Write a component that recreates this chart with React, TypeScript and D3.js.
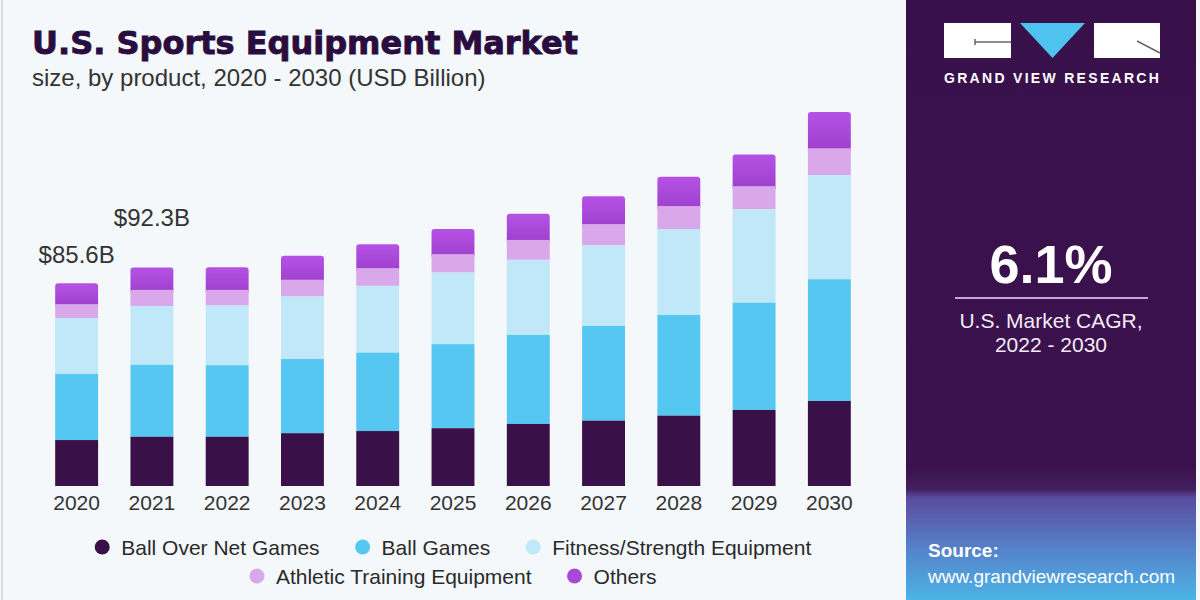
import React, { useEffect, useRef } from 'react'
import * as d3 from 'd3'

// values, USD billion
const years = ['2020', '2021', '2022', '2023', '2024', '2025', '2026', '2027', '2028', '2029', '2030']
const ballOverNet = [19.4, 20.8, 20.8, 22.3, 23.2, 24.4, 26.2, 27.6, 29.7, 32.1, 35.9]
const ballGames = [27.9, 30.4, 30.2, 31.3, 33.1, 35.5, 37.6, 40.0, 42.5, 45.3, 51.4]
const fitness = [23.6, 24.8, 25.2, 26.4, 28.2, 30.2, 31.7, 34.1, 36.3, 39.4, 44.0]
const athletic = [5.9, 6.8, 6.6, 7.1, 7.5, 7.8, 8.4, 8.9, 9.7, 9.8, 11.3]
const others = [8.8, 9.5, 9.6, 10.1, 10.1, 10.6, 11.0, 11.7, 12.4, 13.4, 15.3]

const seriesKeys = ['bon', 'ball', 'fit', 'ath', 'oth']
const seriesNames = ['Ball Over Net Games', 'Ball Games', 'Fitness/Strength Equipment', 'Athletic Training Equipment', 'Others']
const seriesColors = ['#3a1049', '#56c7f1', '#c0e8f8', '#d9a8ea', 'url(#othGrad)']
const legendDots = ['#3a1049', '#56c7f1', '#c0e8f8', '#d9a8ea', '#a947d9']
const legendRows = [[0, 1, 2], [3, 4]]

const totalLabels = ['$85.6B', '$92.3B']
const cagrValue = '6.1%'
const cagrText = ['U.S. Market CAGR,', '2022 - 2030']

const FONT = "'Liberation Sans', Arial, sans-serif"

const App = () => {
    const svgRef = useRef<SVGSVGElement>(null)

    useEffect(() => {
        draw()
    }, [])

    const draw = () => {
        const svg: any = d3.select(svgRef.current)
        svg.selectAll('*').remove()

        const W = 1200, H = 600
        const panelX = 906, panelW = 290

        const defs = svg.append('defs')
        const pg = defs.append('linearGradient').attr('id', 'panelGrad')
            .attr('x1', 0).attr('y1', 0).attr('x2', 0).attr('y2', 1)
        pg.append('stop').attr('offset', 0).attr('stop-color', '#38104a')
        pg.append('stop').attr('offset', 0.78).attr('stop-color', '#3b124d')
        pg.append('stop').attr('offset', 0.815).attr('stop-color', '#42205f')
        pg.append('stop').attr('offset', 0.83).attr('stop-color', '#5a4c9f')
        pg.append('stop').attr('offset', 0.92).attr('stop-color', '#5585cc')
        pg.append('stop').attr('offset', 1).attr('stop-color', '#4cb4e6')

        const og = defs.append('linearGradient').attr('id', 'othGrad')
            .attr('x1', 0).attr('y1', 0).attr('x2', 0).attr('y2', 1)
        og.append('stop').attr('offset', 0).attr('stop-color', '#b552e6')
        og.append('stop').attr('offset', 1).attr('stop-color', '#9d3fcb')

        // backgrounds
        svg.append('rect').attr('width', W).attr('height', H).attr('fill', '#f4f8fb')
        svg.append('line').attr('x1', 2).attr('x2', 2).attr('y1', 0).attr('y2', H)
            .attr('stroke', '#d9dee3').attr('stroke-width', 2)
        svg.append('rect').attr('x', panelX).attr('y', 0).attr('width', panelW).attr('height', H)
            .attr('fill', 'url(#panelGrad)')

        // title
        svg.append('text').attr('x', 32).attr('y', 54)
            .attr('font-family', "'DejaVu Sans', sans-serif").attr('font-weight', 'bold')
            .attr('font-size', 32).attr('fill', '#2a0d3e')
            .attr('stroke', '#2a0d3e').attr('stroke-width', 0.9)
            .text('U.S. Sports Equipment Market')
        svg.append('text').attr('x', 32).attr('y', 86)
            .attr('font-family', FONT).attr('font-size', 24).attr('fill', '#333')
            .text('size, by product, 2020 - 2030 (USD Billion)')

        // data table
        const table = years.map((yr, i) => ({
            year: yr, bon: ballOverNet[i], ball: ballGames[i], fit: fitness[i], ath: athletic[i], oth: others[i]
        }))
        const stacked = d3.stack<any>().keys(seriesKeys)(table)

        const x = d3.scaleBand().domain(years).range([39, 867]).paddingInner(0.43).paddingOuter(0.215)
        const y = d3.scaleLinear().domain([0, 205.2]).range([486, 0])

        const bars = svg.append('g')
        // draw top layer first so the rounded top can tuck under the layer below
        stacked.slice().reverse().forEach((layer: any) => {
            const idx = seriesKeys.indexOf(layer.key)
            const isTop = layer.key === 'oth'
            bars.append('g').selectAll('rect').data(layer).join('rect')
                .attr('x', (d: any) => x(d.data.year))
                .attr('width', x.bandwidth())
                .attr('y', (d: any) => y(d[1]))
                .attr('height', (d: any) => y(d[0]) - y(d[1]) + (isTop ? 4 : 0))
                .attr('rx', isTop ? 3 : 0)
                .attr('fill', seriesColors[idx])
        })

        // year labels
        svg.append('g').selectAll('text').data(years).join('text')
            .attr('x', (d: string) => x(d)! + x.bandwidth() / 2)
            .attr('y', 510)
            .attr('text-anchor', 'middle')
            .attr('font-family', FONT).attr('font-size', 21).attr('fill', '#333')
            .text((d: string) => d)

        // total labels for first two years
        const totals = table.map(r => r.bon + r.ball + r.fit + r.ath + r.oth)
        svg.append('g').selectAll('text').data(totalLabels).join('text')
            .attr('x', (_: any, i: number) => x(years[i])! + x.bandwidth() / 2)
            .attr('y', (_: any, i: number) => y(totals[i]) - (i === 0 ? 20 : 41))
            .attr('text-anchor', 'middle')
            .attr('font-family', FONT).attr('font-size', 24).attr('fill', '#333')
            .text((d: string) => d)

        // legend
        const legend = svg.append('g')
        const rowY = [547, 576]
        legendRows.forEach((row, r) => {
            const g = legend.append('g')
            let cx = 0
            row.forEach((si, k) => {
                g.append('circle').attr('cx', cx).attr('cy', rowY[r]).attr('r', 7.5).attr('fill', legendDots[si])
                const t = g.append('text').attr('x', cx + 19).attr('y', rowY[r] + 7.5)
                    .attr('font-family', FONT).attr('font-size', 21).attr('fill', '#2a2a2a')
                    .text(seriesNames[si])
                const w = (t.node() as SVGTextElement).getComputedTextLength()
                cx = cx + 19 + w + (k < row.length - 1 ? 43 : 0)
            })
            const total = cx + 7.5
            g.attr('transform', `translate(${453 - total / 2 + 7.5},0)`)
        })

        // right panel: logo
        const logo = svg.append('g')
        logo.append('rect').attr('x', 944).attr('y', 23).attr('width', 67).attr('height', 35).attr('fill', '#fff')
        logo.append('polygon').attr('points', '1020,23 1085,23 1052.5,58').attr('fill', '#4fc3f0')
        logo.append('rect').attr('x', 1094).attr('y', 23).attr('width', 66).attr('height', 35).attr('fill', '#fff')
        logo.append('line').attr('x1', 975).attr('x2', 1011).attr('y1', 42).attr('y2', 42)
            .attr('stroke', '#666').attr('stroke-width', 1.5)
        logo.append('line').attr('x1', 975).attr('x2', 975).attr('y1', 39).attr('y2', 45)
            .attr('stroke', '#666').attr('stroke-width', 1.5)
        logo.append('line').attr('x1', 1137).attr('x2', 1160).attr('y1', 41).attr('y2', 53)
            .attr('stroke', '#666').attr('stroke-width', 1.5)
        logo.append('text').attr('x', 944).attr('y', 83)
            .attr('font-family', FONT).attr('font-weight', 'bold').attr('font-size', 14)
            .attr('letter-spacing', 2.3).attr('fill', '#fff')
            .text('GRAND VIEW RESEARCH')

        // CAGR block
        const cx = 1051
        svg.append('text').attr('x', cx).attr('y', 283).attr('text-anchor', 'middle')
            .attr('font-family', FONT).attr('font-weight', 'bold').attr('font-size', 54).attr('fill', '#fff')
            .text(cagrValue)
        svg.append('line').attr('x1', 955).attr('x2', 1148).attr('y1', 298).attr('y2', 298)
            .attr('stroke', '#c6a4dc').attr('stroke-width', 2)
        svg.append('g').selectAll('text').data(cagrText).join('text')
            .attr('x', cx).attr('y', (_: any, i: number) => 328 + i * 24)
            .attr('text-anchor', 'middle')
            .attr('font-family', FONT).attr('font-size', 21).attr('fill', '#f3ecf7')
            .text((d: string) => d)

        // source
        svg.append('text').attr('x', 928).attr('y', 557)
            .attr('font-family', FONT).attr('font-weight', 'bold').attr('font-size', 19).attr('fill', '#fff')
            .text('Source:')
        svg.append('text').attr('x', 928).attr('y', 583)
            .attr('font-family', FONT).attr('font-size', 19).attr('fill', '#fff')
            .text('www.grandviewresearch.com')
    }

    return (
        <svg ref={svgRef} width={1200} height={600}
            style={{ position: 'absolute', left: 0, top: 0, display: 'block' }} />
    )
}

export default App
